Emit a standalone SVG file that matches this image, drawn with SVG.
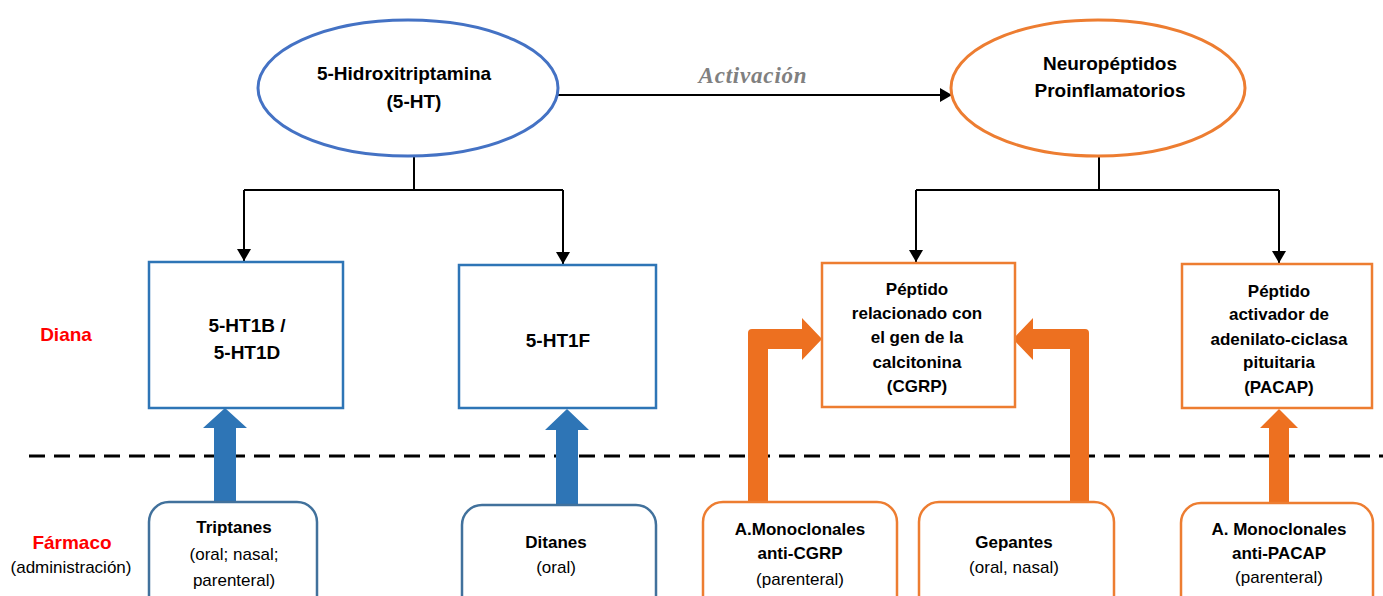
<svg xmlns="http://www.w3.org/2000/svg" width="1383" height="596" viewBox="0 0 1383 596">
<defs>
<marker id="ah" viewBox="0 0 12 14" refX="12" refY="7" markerWidth="12" markerHeight="14" markerUnits="userSpaceOnUse" orient="auto">
<path d="M0,0 L12,7 L0,14 Z" fill="#000"/>
</marker>
<style>
text{font-family:"Liberation Sans",Arial,sans-serif;text-anchor:middle;fill:#000}
.lbl{font-weight:bold;fill:#FF0000;font-size:19px}
.t19{font-size:19px;font-weight:bold}
.t17b{font-size:17px;font-weight:bold}
.t17{font-size:17px}
.conn{fill:none;stroke:#000;stroke-width:2}
.blueBox{fill:#fff;stroke:#2E75B6;stroke-width:2.5}
.orBox{fill:#fff;stroke:#ED7D31;stroke-width:2.5}
.blueDrug{fill:#fff;stroke:#41719C;stroke-width:2.5}
.orDrug{fill:#fff;stroke:#ED7D31;stroke-width:2.5}
.bArrow{fill:#2E75B6}
.oArrow{fill:#ED7020}
</style>
</defs>
<rect width="1383" height="596" fill="#fff"/>

<!-- dashed separator -->
<line x1="29" y1="456" x2="1383" y2="456" stroke="#000" stroke-width="3" stroke-dasharray="16 9"/>

<!-- side labels -->
<text class="lbl" x="66" y="341">Diana</text>
<text class="lbl" x="72" y="549">Fármaco</text>
<text class="t17" x="71" y="573">(administración)</text>

<g id="connectors">
<line class="conn" x1="558" y1="95" x2="952" y2="95" marker-end="url(#ah)"/>
<text x="753" y="83" style="font-family:'Liberation Serif','Times New Roman',serif;font-style:italic;font-weight:bold;font-size:23px;fill:#808080;letter-spacing:0.8px">Activación</text>
<polyline class="conn" points="414,157 414,190"/>
<polyline class="conn" points="244,190 563,190"/>
<line class="conn" x1="244" y1="190" x2="244" y2="261" marker-end="url(#ah)"/>
<line class="conn" x1="563" y1="190" x2="563" y2="264" marker-end="url(#ah)"/>
<polyline class="conn" points="1099,157 1099,190"/>
<polyline class="conn" points="916,190 1279,190"/>
<line class="conn" x1="916" y1="190" x2="916" y2="262" marker-end="url(#ah)"/>
<line class="conn" x1="1279" y1="190" x2="1279" y2="263" marker-end="url(#ah)"/>
<!-- thick arrows -->
<path class="bArrow" d="M214,503 L214,428 L203,428 L225,408 L247,428 L236,428 L236,503 Z"/>
<path class="bArrow" d="M556,506 L556,430 L545,430 L567,409 L589,430 L578,430 L578,506 Z"/>
<path class="oArrow" d="M748,503 L748,333 Q748,329 752,329 L802,329 L802,318 L822,339 L802,360 L802,349 L768,349 L768,503 Z"/>
<path class="oArrow" d="M1089,503 L1089,333 Q1089,329 1085,329 L1033,329 L1033,318 L1013,339 L1033,360 L1033,349 L1070,349 L1070,503 Z"/>
<path class="oArrow" d="M1269,504 L1269,428 L1260,428 L1279,409 L1298,428 L1289,428 L1289,504 Z"/>
</g>

<g id="node-5ht">
<ellipse cx="408" cy="88" rx="150" ry="68" fill="#fff" stroke="#4472C4" stroke-width="3"/>
<text class="t19" x="404" y="80">5-Hidroxitriptamina</text>
<text class="t19" x="414" y="108">(5-HT)</text>
</g>

<g id="node-neuro">
<ellipse cx="1098" cy="88" rx="147" ry="68" fill="#fff" stroke="#ED7D31" stroke-width="3"/>
<text class="t19" x="1110" y="70">Neuropéptidos</text>
<text class="t19" x="1110" y="97">Proinflamatorios</text>
</g>

<g id="node-ht1bd">
<rect class="blueBox" x="149" y="262" width="194" height="146"/>
<text class="t19" x="247" y="332">5-HT1B /</text>
<text class="t19" x="247" y="359">5-HT1D</text>
</g>

<g id="node-ht1f">
<rect class="blueBox" x="459" y="265" width="197" height="143"/>
<text class="t19" x="558" y="347">5-HT1F</text>
</g>

<g id="node-cgrp">
<rect class="orBox" x="822" y="263" width="193" height="144"/>
<text class="t17b" x="917" y="295">Péptido</text>
<text class="t17b" x="917" y="319">relacionado con</text>
<text class="t17b" x="917" y="343">el gen de la</text>
<text class="t17b" x="917" y="368">calcitonina</text>
<text class="t17b" x="917" y="392">(CGRP)</text>
</g>

<g id="node-pacap">
<rect class="orBox" x="1182" y="264" width="190" height="144"/>
<text class="t17b" x="1279" y="297">Péptido</text>
<text class="t17b" x="1279" y="320">activador de</text>
<text class="t17b" x="1279" y="345">adenilato-ciclasa</text>
<text class="t17b" x="1279" y="368">pituitaria</text>
<text class="t17b" x="1279" y="393">(PACAP)</text>
</g>

<g id="node-triptanes">
<rect class="blueDrug" x="149" y="502" width="168" height="120" rx="20"/>
<text class="t17b" x="234" y="533">Triptanes</text>
<text class="t17" x="234" y="560">(oral; nasal;</text>
<text class="t17" x="234" y="586">parenteral)</text>
</g>

<g id="node-ditanes">
<rect class="blueDrug" x="462" y="505" width="194" height="120" rx="20"/>
<text class="t17b" x="556" y="548">Ditanes</text>
<text class="t17" x="556" y="573">(oral)</text>
</g>

<g id="node-mab-cgrp">
<rect class="orDrug" x="703" y="502" width="194" height="120" rx="20"/>
<text class="t17b" x="800" y="535">A.Monoclonales</text>
<text class="t17b" x="800" y="559">anti-CGRP</text>
<text class="t17" x="800" y="585">(parenteral)</text>
</g>

<g id="node-gepantes">
<rect class="orDrug" x="919" y="502" width="195" height="120" rx="20"/>
<text class="t17b" x="1014" y="548">Gepantes</text>
<text class="t17" x="1014" y="573">(oral, nasal)</text>
</g>

<g id="node-mab-pacap">
<rect class="orDrug" x="1181" y="503" width="192" height="120" rx="20"/>
<text class="t17b" x="1279" y="535">A. Monoclonales</text>
<text class="t17b" x="1279" y="559">anti-PACAP</text>
<text class="t17" x="1279" y="583">(parenteral)</text>
</g>
</svg>
